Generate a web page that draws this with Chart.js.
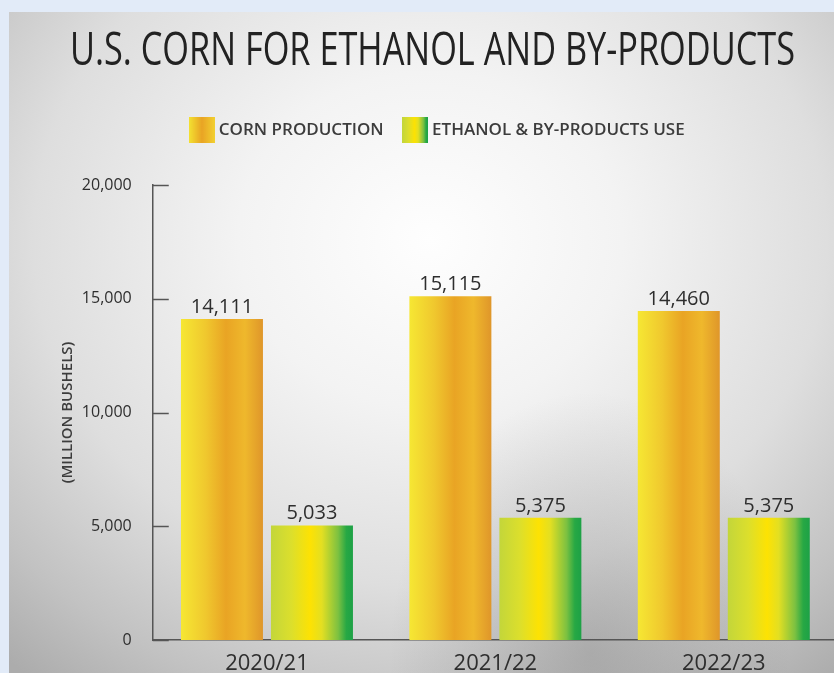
<!DOCTYPE html>
<html><head><meta charset="utf-8">
<script src="https://cdn.jsdelivr.net/npm/chart.js@4.4.1/dist/chart.umd.min.js"></script>
<style>
html,body{margin:0;padding:0;width:834px;height:673px;overflow:hidden;background:#e2ebf8;}
#panel{position:absolute;left:9px;top:12px;width:900px;height:700px;
 background:
  radial-gradient(ellipse 200px 260px at 581px 640px, rgba(110,110,110,0.35) 0%, rgba(110,110,110,0) 100%),
  radial-gradient(ellipse 640px 560px at 421px 228px,#fefefe 0%,#f3f3f3 30%,#dedede 62%,#c2c2c2 85%,#acacac 100%);}
#wrap{position:absolute;left:0;top:0;width:850px;height:673px;}
</style></head><body>
<div id="panel"></div>
<div id="wrap"><canvas id="c"></canvas></div>
<script>
// ---- data ----
const titleText = 'U.S. CORN FOR ETHANOL AND BY-PRODUCTS';
const categories = ['2020/21', '2021/22', '2022/23'];
const seriesNames = ['CORN PRODUCTION', 'ETHANOL & BY-PRODUCTS USE'];
const cornProduction = [14111, 15115, 14460];
const ethanolUse = [5033, 5375, 5375];
const yTicks = [0, 5000, 10000, 15000, 20000];
const yAxisTitle = '(MILLION BUSHELS)';

// ---- styles ----
const cornStops = [[0,'#f6e733'],[0.3,'#f0c82e'],[0.55,'#e9a424'],[0.78,'#efb82c'],[1,'#df962a']];
const ethStops = [[0,'#c3d63a'],[0.25,'#dcdf2c'],[0.48,'#fde203'],[0.62,'#e3df22'],[0.82,'#7cc141'],[0.92,'#27a844'],[1,'#1da146']];
const fmt = v => v.toLocaleString('en-US');

function makeSwatch(stops){
  const c = document.createElement('canvas'); c.width = 26; c.height = 26;
  const x = c.getContext('2d');
  const g = x.createLinearGradient(0,0,26,0);
  stops.forEach(s => g.addColorStop(s[0], s[1]));
  x.fillStyle = g; x.fillRect(0,0,26,26);
  return c;
}
const swatches = [makeSwatch([[0,'#f4e232'],[0.5,'#e9a424'],[1,'#f2d030']]), makeSwatch(ethStops)];

function barFill(stops, fallback){
  return (ctx) => {
    const el = ctx.element;
    if (!el || typeof el.x !== 'number' || !el.width) return fallback;
    const g = ctx.chart.ctx.createLinearGradient(el.x - el.width/2, 0, el.x + el.width/2, 0);
    stops.forEach(s => g.addColorStop(s[0], s[1]));
    return g;
  };
}

const titlePlugin = {
  id: 'condTitle',
  afterDraw(chart){
    const ctx = chart.ctx;
    ctx.save();
    ctx.font = '46px "Liberation Sans Narrow", "Open Sans", sans-serif';
    const w = ctx.measureText(titleText).width;
    ctx.translate(432.5, 65);
    ctx.scale(725 / w, 1);
    ctx.fillStyle = '#222';
    ctx.textAlign = 'center';
    ctx.textBaseline = 'alphabetic';
    ctx.fillText(titleText, 0, 0);
    ctx.restore();
  }
};

const legendSpacer = {
  id: 'legendSpacer',
  beforeLayout(chart){
    const lg = chart.legend;
    if (lg && !lg._spaced){
      const f = lg.fit;
      lg.fit = function(){ f.call(this); this.height += 36.5; };
      lg._spaced = true;
    }
  }
};

const innerTicks = {
  id: 'innerTicks',
  beforeDatasetsDraw(chart){
    const y = chart.scales.y, ctx = chart.ctx;
    ctx.save();
    ctx.strokeStyle = '#555'; ctx.lineWidth = 1.5;
    y.ticks.forEach(t => {
      const py = Math.round(y.getPixelForValue(t.value)) + 0.5;
      ctx.beginPath(); ctx.moveTo(y.right, py); ctx.lineTo(y.right + 16, py); ctx.stroke();
    });
    ctx.restore();
  }
};

const valueLabels = {
  id: 'valueLabels',
  afterDatasetsDraw(chart){
    const ctx = chart.ctx;
    ctx.save();
    ctx.font = '20px "Open Sans", sans-serif';
    ctx.fillStyle = '#2e2e2e';
    ctx.textAlign = 'center';
    ctx.textBaseline = 'alphabetic';
    chart.data.datasets.forEach((ds, di) => {
      chart.getDatasetMeta(di).data.forEach((bar, i) => {
        ctx.fillText(fmt(ds.data[i]), bar.x, bar.y - 6);
      });
    });
    ctx.restore();
  }
};

const chart = new Chart(document.getElementById('c'), {
  type: 'bar',
  data: {
    labels: categories,
    datasets: [
      { label: seriesNames[0], data: cornProduction, backgroundColor: barFill(cornStops, '#eab42a'), borderWidth: 0 },
      { label: seriesNames[1], data: ethanolUse, backgroundColor: barFill(ethStops, '#b8d83a'), borderWidth: 0 }
    ]
  },
  options: {
    responsive: true,
    maintainAspectRatio: false,
    animation: false,
    events: [],
    layout: { padding: { left: 40, top: 98.5, right: 12, bottom: 0 } },
    datasets: { bar: { categoryPercentage: 0.788, barPercentage: 0.911 } },
    plugins: {
      title: { display: false },
      tooltip: { enabled: false },
      legend: {
        display: true,
        position: 'top',
        labels: {
          usePointStyle: true,
          padding: 23,
          color: '#3c3c3c',
          font: { family: '"Open Sans", sans-serif', size: 17, weight: '600' },
          generateLabels: (ch) => ch.data.datasets.map((ds, i) => ({
            text: ds.label, pointStyle: swatches[i], fillStyle: 'transparent',
            strokeStyle: 'transparent', lineWidth: 0, hidden: false, datasetIndex: i, fontColor: '#3c3c3c'
          }))
        }
      }
    },
    scales: {
      x: {
        grid: { display: false },
        border: { display: true, color: '#555', width: 1.5 },
        ticks: { color: '#2e2e2e', padding: 3, font: { family: '"Open Sans", sans-serif', size: 22 } },
        afterFit: (s) => { s.height = 33; }
      },
      y: {
        min: 0, max: 20000,
        grid: { display: false },
        border: { display: true, color: '#555', width: 1.5 },
        afterBuildTicks: (s) => { s.ticks = yTicks.map(v => ({ value: v })); },
        ticks: { color: '#2e2e2e', padding: 13, font: { family: '"Open Sans", sans-serif', size: 16 }, callback: (v) => fmt(v) },
        title: { display: true, text: yAxisTitle, color: '#3c3c3c', padding: { top: 18.6, bottom: 0 },
          font: { family: '"Open Sans", sans-serif', size: 15, weight: '600' } },
        afterFit: (s) => { s.width = 112.75; }
      }
    }
  },
  plugins: [legendSpacer, innerTicks, valueLabels, titlePlugin]
});
chart.update();
</script>
</body></html>
